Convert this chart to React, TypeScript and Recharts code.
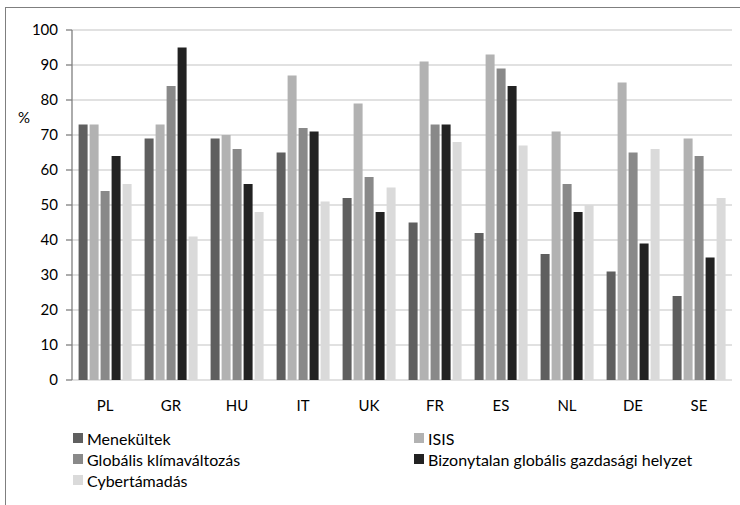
import React from 'react';
import { BarChart, Bar, XAxis, YAxis, CartesianGrid, Label } from 'recharts';

const countries = ['PL', 'GR', 'HU', 'IT', 'UK', 'FR', 'ES', 'NL', 'DE', 'SE'];
const menekultek = [73, 69, 69, 65, 52, 45, 42, 36, 31, 24];
const isis = [73, 73, 70, 87, 79, 91, 93, 71, 85, 69];
const globalis = [54, 84, 66, 72, 58, 73, 89, 56, 65, 64];
const bizonytalan = [64, 95, 56, 71, 48, 73, 84, 48, 39, 35];
const cyber = [56, 41, 48, 51, 55, 68, 67, 50, 66, 52];
const yTicks = [0, 10, 20, 30, 40, 50, 60, 70, 80, 90, 100];
const edgeTicks = [0, 1, 2, 3, 4, 5, 6, 7, 8, 9, 10];

const series = [
  { key: 'men', name: 'Menekültek', values: menekultek, color: '#5f5f5f' },
  { key: 'isis', name: 'ISIS', values: isis, color: '#b2b2b2' },
  { key: 'glob', name: 'Globális klímaváltozás', values: globalis, color: '#898989' },
  { key: 'biz', name: 'Bizonytalan globális gazdasági helyzet', values: bizonytalan, color: '#222222' },
  { key: 'cyber', name: 'Cybertámadás', values: cyber, color: '#dadada' },
];

const data = countries.map((c, i) => {
  const row: Record<string, any> = { country: c };
  series.forEach((s) => {
    row[s.key] = s.values[i];
  });
  return row;
});

const FONT = 'Lato, "Open Sans", sans-serif';

const legendOrder = [
  [series[0], series[1]],
  [series[2], series[3]],
  [series[4], null],
];

export default function App() {
  return (
    <div style={{ position: 'absolute', left: 0, top: 0, width: 740, height: 505, background: '#fff', fontFamily: FONT }}>
      <div
        style={{
          position: 'absolute',
          left: 5,
          top: 7,
          width: 735,
          height: 498,
          borderTop: '1.5px solid #7f7f7f',
          borderLeft: '1.5px solid #7f7f7f',
        }}
      />
      <div style={{ position: 'absolute', left: 0, top: 0 }}>
        <BarChart
          width={740}
          height={505}
          data={data}
          margin={{ top: 30, right: 8, left: 12, bottom: 95 }}
          barCategoryGap="10%"
          barGap={2}
        >
          <CartesianGrid vertical={false} stroke="#c4c4c4" strokeWidth={1.2} yAxisId="left" xAxisId="cat" />
          <XAxis
            xAxisId="edges"
            type="number"
            domain={[0, 10]}
            ticks={edgeTicks}
            height={0}
            tickSize={5}
            tickFormatter={() => ''}
            stroke="#7f7f7f"
            axisLine={{ stroke: '#7f7f7f', strokeWidth: 1.3 }}
            tickLine={{ stroke: '#7f7f7f', strokeWidth: 1.3 }}
            allowDataOverflow
          />
          <XAxis
            xAxisId="cat"
            dataKey="country"
            height={30}
            axisLine={false}
            tickLine={false}
            tickMargin={14}
            tick={{ fontSize: 15, fill: '#000', fontFamily: FONT }}
          />
          <YAxis
            yAxisId="left"
            domain={[0, 100]}
            ticks={yTicks}
            width={60}
            tickSize={6}
            tickMargin={8}
            interval={0}
            axisLine={{ stroke: '#7f7f7f', strokeWidth: 1.3 }}
            tickLine={{ stroke: '#7f7f7f', strokeWidth: 1.3 }}
            tick={{ fontSize: 15, fill: '#000', fontFamily: FONT }}
          >
            <Label
              content={(props: any) => {
                const vb = props.viewBox || { x: 12, y: 30 };
                return (
                  <text x={vb.x + 12} y={vb.y + 87} textAnchor="middle" dominantBaseline="central" fontSize={15} fontFamily={FONT} fill="#000">
                    %
                  </text>
                );
              }}
            />
          </YAxis>
          <YAxis
            yAxisId="right"
            orientation="right"
            domain={[0, 100]}
            width={0}
            tick={false}
            tickLine={false}
            axisLine={{ stroke: '#7f7f7f', strokeWidth: 1.3 }}
          />
          {series.map((s) => (
            <Bar
              key={s.key}
              dataKey={s.key}
              name={s.name}
              fill={s.color}
              xAxisId="cat"
              yAxisId="left"
              isAnimationActive={false}
            />
          ))}
        </BarChart>
      </div>
      {legendOrder.map((row, ri) =>
        row.map((s, ci) =>
          s ? (
            <div
              key={s.key}
              style={{
                position: 'absolute',
                left: ci === 0 ? 73 : 414,
                top: 438 + ri * 21 - 10,
                height: 20,
                display: 'flex',
                alignItems: 'center',
                fontSize: 16,
                color: '#000',
                whiteSpace: 'nowrap',
              }}
            >
              <span style={{ display: 'inline-block', width: 10, height: 10, background: s.color, marginRight: 4 }} />
              <span>{s.name}</span>
            </div>
          ) : null
        )
      )}
    </div>
  );
}
